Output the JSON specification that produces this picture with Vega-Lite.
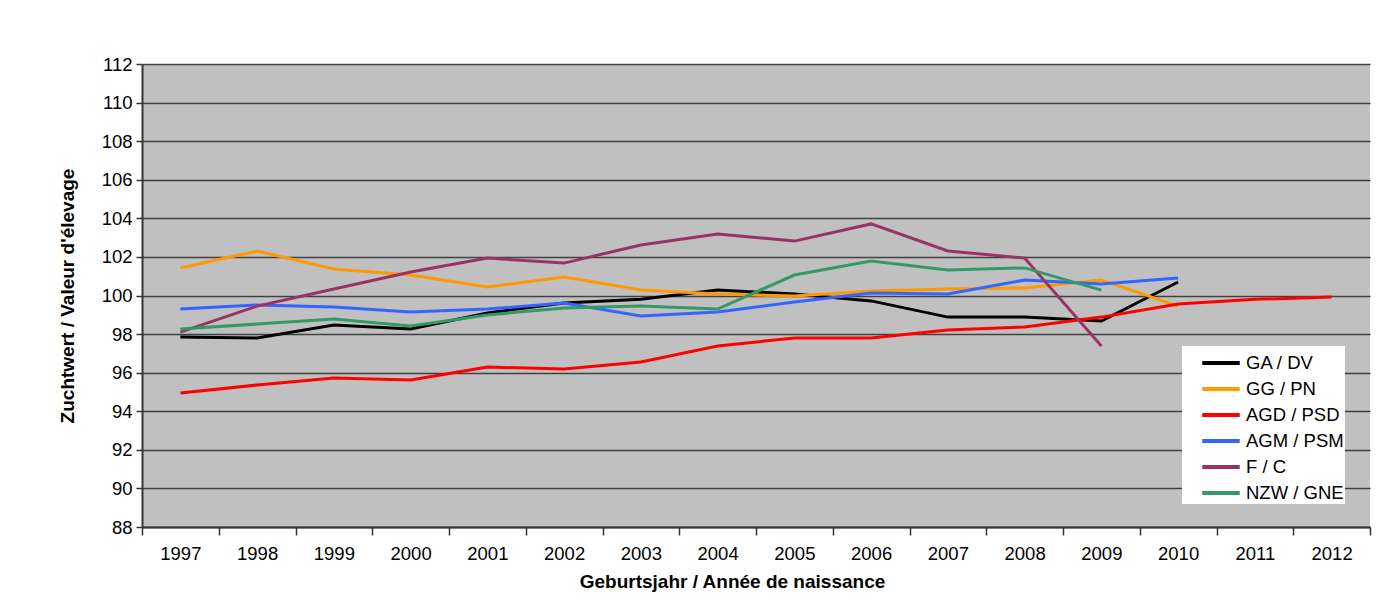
{
  "$schema": "https://vega.github.io/schema/vega-lite/v6.json",
  "width": 1228,
  "height": 463,
  "autosize": {"type": "none"},
  "padding": {"left": 142, "top": 64, "right": 28, "bottom": 80},
  "background": "white",
  "config": {
    "font": "Liberation Sans",
    "view": {"fill": "#C0C0C0", "stroke": null}
  },
  "data": {
    "values": [
      {"year": "1997", "series": "GA / DV", "value": 97.85},
      {"year": "1998", "series": "GA / DV", "value": 97.8},
      {"year": "1999", "series": "GA / DV", "value": 98.47},
      {"year": "2000", "series": "GA / DV", "value": 98.26},
      {"year": "2001", "series": "GA / DV", "value": 99.09},
      {"year": "2002", "series": "GA / DV", "value": 99.61},
      {"year": "2003", "series": "GA / DV", "value": 99.8},
      {"year": "2004", "series": "GA / DV", "value": 100.28},
      {"year": "2005", "series": "GA / DV", "value": 100.08},
      {"year": "2006", "series": "GA / DV", "value": 99.72},
      {"year": "2007", "series": "GA / DV", "value": 98.88},
      {"year": "2008", "series": "GA / DV", "value": 98.88},
      {"year": "2009", "series": "GA / DV", "value": 98.68},
      {"year": "2010", "series": "GA / DV", "value": 100.7},

      {"year": "1997", "series": "GG / PN", "value": 101.43},
      {"year": "1998", "series": "GG / PN", "value": 102.3},
      {"year": "1999", "series": "GG / PN", "value": 101.37},
      {"year": "2000", "series": "GG / PN", "value": 101.06},
      {"year": "2001", "series": "GG / PN", "value": 100.44},
      {"year": "2002", "series": "GG / PN", "value": 100.96},
      {"year": "2003", "series": "GG / PN", "value": 100.28},
      {"year": "2004", "series": "GG / PN", "value": 100.08},
      {"year": "2005", "series": "GG / PN", "value": 99.97},
      {"year": "2006", "series": "GG / PN", "value": 100.23},
      {"year": "2007", "series": "GG / PN", "value": 100.34},
      {"year": "2008", "series": "GG / PN", "value": 100.39},
      {"year": "2009", "series": "GG / PN", "value": 100.8},
      {"year": "2010", "series": "GG / PN", "value": 99.45},

      {"year": "1997", "series": "AGD / PSD", "value": 94.94},
      {"year": "1998", "series": "AGD / PSD", "value": 95.36},
      {"year": "1999", "series": "AGD / PSD", "value": 95.72},
      {"year": "2000", "series": "AGD / PSD", "value": 95.62},
      {"year": "2001", "series": "AGD / PSD", "value": 96.29},
      {"year": "2002", "series": "AGD / PSD", "value": 96.19},
      {"year": "2003", "series": "AGD / PSD", "value": 96.55},
      {"year": "2004", "series": "AGD / PSD", "value": 97.38},
      {"year": "2005", "series": "AGD / PSD", "value": 97.8},
      {"year": "2006", "series": "AGD / PSD", "value": 97.8},
      {"year": "2007", "series": "AGD / PSD", "value": 98.21},
      {"year": "2008", "series": "AGD / PSD", "value": 98.37},
      {"year": "2009", "series": "AGD / PSD", "value": 98.88},
      {"year": "2010", "series": "AGD / PSD", "value": 99.56},
      {"year": "2011", "series": "AGD / PSD", "value": 99.8},
      {"year": "2012", "series": "AGD / PSD", "value": 99.92},

      {"year": "1997", "series": "AGM / PSM", "value": 99.3},
      {"year": "1998", "series": "AGM / PSM", "value": 99.51},
      {"year": "1999", "series": "AGM / PSM", "value": 99.4},
      {"year": "2000", "series": "AGM / PSM", "value": 99.14},
      {"year": "2001", "series": "AGM / PSM", "value": 99.3},
      {"year": "2002", "series": "AGM / PSM", "value": 99.61},
      {"year": "2003", "series": "AGM / PSM", "value": 98.94},
      {"year": "2004", "series": "AGM / PSM", "value": 99.14},
      {"year": "2005", "series": "AGM / PSM", "value": 99.66},
      {"year": "2006", "series": "AGM / PSM", "value": 100.13},
      {"year": "2007", "series": "AGM / PSM", "value": 100.08},
      {"year": "2008", "series": "AGM / PSM", "value": 100.8},
      {"year": "2009", "series": "AGM / PSM", "value": 100.6},
      {"year": "2010", "series": "AGM / PSM", "value": 100.91},

      {"year": "1997", "series": "F / C", "value": 98.1},
      {"year": "1998", "series": "F / C", "value": 99.45},
      {"year": "1999", "series": "F / C", "value": 100.34},
      {"year": "2000", "series": "F / C", "value": 101.22},
      {"year": "2001", "series": "F / C", "value": 101.94},
      {"year": "2002", "series": "F / C", "value": 101.68},
      {"year": "2003", "series": "F / C", "value": 102.62},
      {"year": "2004", "series": "F / C", "value": 103.19},
      {"year": "2005", "series": "F / C", "value": 102.82},
      {"year": "2006", "series": "F / C", "value": 103.71},
      {"year": "2007", "series": "F / C", "value": 102.31},
      {"year": "2008", "series": "F / C", "value": 101.94},
      {"year": "2009", "series": "F / C", "value": 97.38},

      {"year": "1997", "series": "NZW / GNE", "value": 98.26},
      {"year": "1998", "series": "NZW / GNE", "value": 98.52},
      {"year": "1999", "series": "NZW / GNE", "value": 98.78},
      {"year": "2000", "series": "NZW / GNE", "value": 98.42},
      {"year": "2001", "series": "NZW / GNE", "value": 98.99},
      {"year": "2002", "series": "NZW / GNE", "value": 99.35},
      {"year": "2003", "series": "NZW / GNE", "value": 99.45},
      {"year": "2004", "series": "NZW / GNE", "value": 99.3},
      {"year": "2005", "series": "NZW / GNE", "value": 101.06},
      {"year": "2006", "series": "NZW / GNE", "value": 101.79},
      {"year": "2007", "series": "NZW / GNE", "value": 101.32},
      {"year": "2008", "series": "NZW / GNE", "value": 101.43},
      {"year": "2009", "series": "NZW / GNE", "value": 100.28}
    ]
  },
  "mark": {"type": "line", "strokeWidth": 3},
  "encoding": {
    "x": {
      "field": "year",
      "type": "ordinal",
      "bandPosition": 0.5,
      "scale": {"type": "band", "paddingInner": 0, "paddingOuter": 0,
        "domain": ["1997","1998","1999","2000","2001","2002","2003","2004","2005","2006","2007","2008","2009","2010","2011","2012"]},
      "axis": {
        "title": "Geburtsjahr / Année de naissance",
        "titleFontSize": 19,
        "titleFontWeight": "bold",
        "titleColor": "black",
        "titlePadding": 10,
        "titleX": 590,
        "labelAngle": 0,
        "labelFontSize": 18.5,
        "labelColor": "black",
        "labelPadding": 9,
        "tickBand": "extent",
        "tickSize": 8,
        "tickColor": "#333333",
        "tickWidth": 1.5,
        "domainColor": "#333333",
        "domainWidth": 2,
        "grid": false
      }
    },
    "y": {
      "field": "value",
      "type": "quantitative",
      "scale": {"domain": [88, 112], "nice": false, "zero": false},
      "axis": {
        "title": "Zuchtwert / Valeur d'élevage",
        "titleFontSize": 19,
        "titleFontWeight": "bold",
        "titleColor": "black",
        "titlePadding": 24,
        "values": [88,90,92,94,96,98,100,102,104,106,108,110,112],
        "labelFontSize": 18.5,
        "labelColor": "black",
        "labelPadding": 4,
        "tickSize": 6,
        "tickColor": "#333333",
        "tickWidth": 1.5,
        "domainColor": "#333333",
        "domainWidth": 2,
        "grid": true,
        "gridColor": "#404040",
        "gridWidth": 1.5
      }
    },
    "color": {
      "field": "series",
      "type": "nominal",
      "scale": {
        "domain": ["GA / DV", "GG / PN", "AGD / PSD", "AGM / PSM", "F / C", "NZW / GNE"],
        "range": ["#000000", "#FF9900", "#FF0000", "#3366FF", "#993366", "#339966"]
      },
      "legend": {
        "title": null,
        "orient": "none",
        "legendX": 1040,
        "legendY": 282,
        "fillColor": "white",
        "padding": 1,
        "symbolType": "M-1.35,0H1.35",
        "symbolSize": 770,
        "symbolStrokeWidth": 4,
        "symbolOffset": 22,
        "labelFontSize": 18.5,
        "labelColor": "black",
        "labelOffset": 9,
        "rowPadding": 0
      }
    }
  }
}
